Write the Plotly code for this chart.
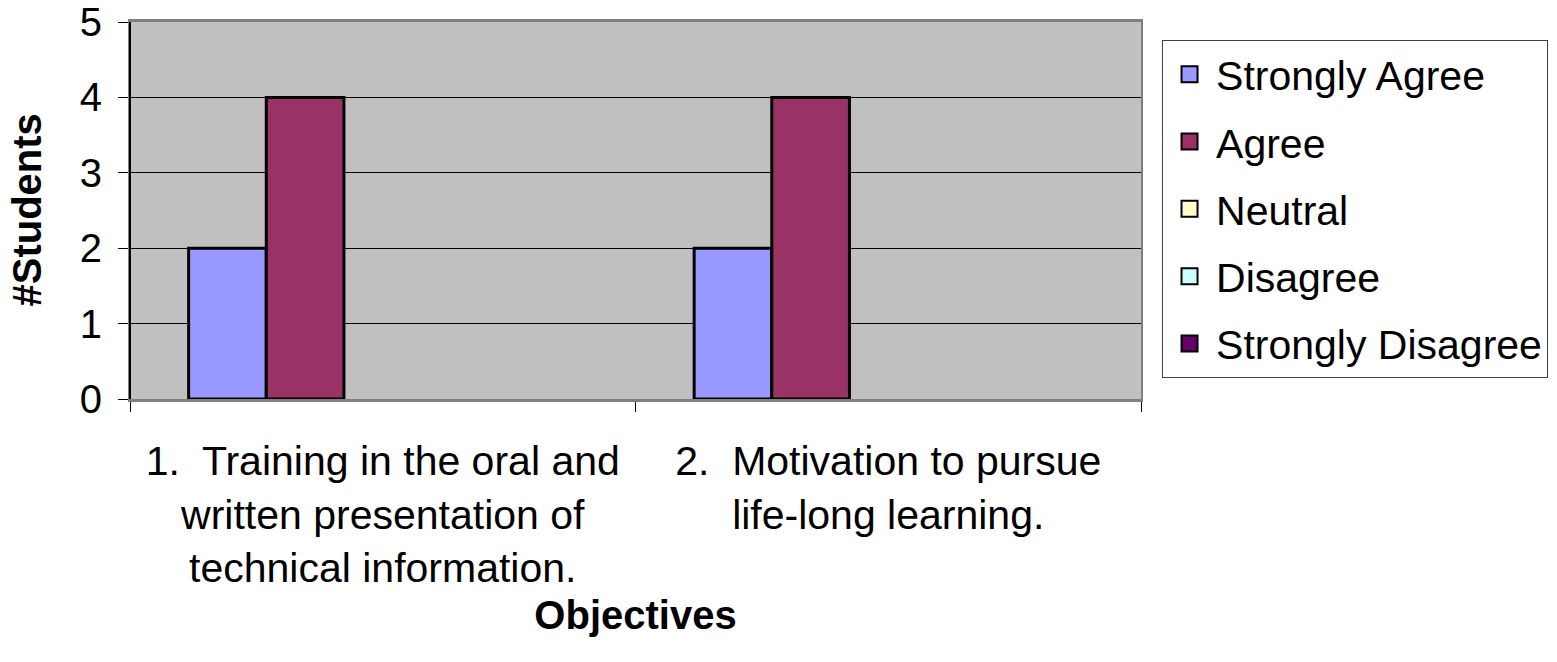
import plotly.graph_objects as go

categories = ["1.  Training in the oral and<br>written presentation of<br>technical information.",
              "2.  Motivation to pursue<br>life-long learning."]
series_names = ["Strongly Agree", "Agree", "Neutral", "Disagree", "Strongly Disagree"]
strongly_agree = [2, 2]
agree = [4, 4]
neutral = [0, 0]
disagree = [0, 0]
strongly_disagree = [0, 0]
colors = ["#9999FF", "#993366", "#FFFFCC", "#CCFFFF", "#660066"]
y_ticks = [0, 1, 2, 3, 4, 5]

FONT = "Liberation Sans, Arial, sans-serif"
values = [strongly_agree, agree, neutral, disagree, strongly_disagree]

fig = go.Figure()
for name, vals, col in zip(series_names, values, colors):
    fig.add_trace(go.Bar(x=categories, y=vals, name=name, showlegend=False,
                         marker=dict(color=col,
                                     line=dict(color="black",
                                               width=[3 if v > 0 else 0 for v in vals]))))
for name, col in zip(series_names, colors):
    fig.add_trace(go.Scatter(x=[None], y=[None], mode="markers", name=name, legendgroup=name,
                             marker=dict(symbol="square", size=16, color=col,
                                         line=dict(color="black", width=2))))

fig.update_layout(
    width=1557, height=662,
    margin=dict(l=130, r=416, t=22, b=263, autoexpand=False),
    paper_bgcolor="white", plot_bgcolor="#C0C0C0",
    barmode="group", bargap=0.232, bargroupgap=0,
    font=dict(family=FONT, size=40, color="black"),
    legend=dict(x=1.0208, y=0.952, xanchor="left", yanchor="top",
                bgcolor="white", bordercolor="#404040", borderwidth=1,
                font=dict(size=41), itemsizing="trace", itemwidth=43,
                tracegroupgap=11, traceorder="grouped"),
    showlegend=True,
)
fig.update_xaxes(
    type="category", tickson="boundaries", ticks="outside", ticklen=10, tickcolor="black",
    showline=True, linecolor="#808080", linewidth=3, mirror=True, automargin=False,
    showgrid=False, tickfont=dict(size=41), ticklabelstandoff=24,
    title=dict(text="<b>Objectives</b>", font=dict(size=40), standoff=12),
)
fig.update_yaxes(
    range=[0, 5], tickvals=y_ticks, ticks="outside", ticklen=10, tickcolor="black",
    showline=True, linecolor="#808080", linewidth=2, mirror=True, automargin=False,
    showgrid=True, gridcolor="black", gridwidth=1, zeroline=False,
    tickfont=dict(size=40), ticklabelstandoff=8, ticklabeloverflow="allow",
)
fig.add_annotation(text="<b>#Students</b>", textangle=-90, showarrow=False,
                   xref="paper", yref="paper", x=0, y=0.5, xanchor="center", yanchor="middle",
                   xshift=-104, font=dict(size=40))
fig.add_shape(type="line", xref="paper", yref="paper", x0=0, x1=0, y0=0, y1=1,
              line=dict(color="black", width=2))
fig.write_html("out.html", config={"displayModeBar": False},
               post_script="document.body.style.margin='0';")
